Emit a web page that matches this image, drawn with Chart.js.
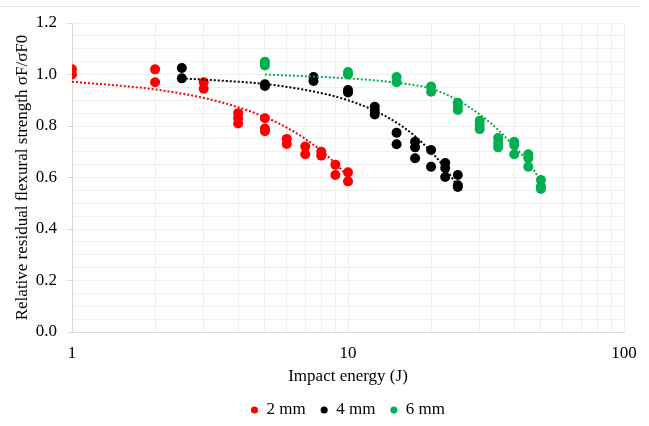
<!DOCTYPE html>
<html>
<head>
<meta charset="utf-8">
<script src="https://cdn.jsdelivr.net/npm/chart.js@4"></script>
<style>
  body { margin: 0; background: #ffffff; }
  canvas { display: block; }
</style>
</head>
<body>
<canvas id="plot-1" width="649" height="426"></canvas>
<script>
// dados (energia J, resistencia relativa)
const redX = [1, 1, 2, 2, 3, 3, 4, 4, 4, 5, 5, 5, 6, 6, 7, 7, 8, 8, 9, 9, 10, 10]
const redY = [1.02, 1.00, 1.02, 0.97, 0.97, 0.945, 0.85, 0.83, 0.81, 0.83, 0.79, 0.78, 0.75, 0.73, 0.72, 0.69, 0.70, 0.685, 0.65, 0.61, 0.62, 0.585]

const blackX = [2.5, 2.5, 5, 5, 7.5, 7.5, 10, 10, 12.5, 12.5, 12.5, 15, 15, 17.5, 17.5, 17.5, 20, 20, 22.5, 22.5, 22.5, 25, 25, 25]
const blackY = [1.025, 0.985, 0.962, 0.955, 0.99, 0.975, 0.94, 0.93, 0.875, 0.86, 0.845, 0.774, 0.729, 0.739, 0.717, 0.675, 0.707, 0.642, 0.656, 0.637, 0.602, 0.61, 0.57, 0.563]

const greenX = [5, 5, 10, 10, 15, 15, 20, 20, 25, 25, 25, 30, 30, 30, 35, 35, 35, 40, 40, 40, 45, 45, 45, 50, 50, 50]
const greenY = [1.05, 1.035, 1.01, 1.0, 0.99, 0.97, 0.953, 0.933, 0.89, 0.878, 0.862, 0.82, 0.804, 0.788, 0.753, 0.734, 0.717, 0.739, 0.726, 0.69, 0.69, 0.675, 0.642, 0.59, 0.565, 0.555]

// linhas de tendencia (pontilhadas)
const redTrendX = [1, 2, 3, 4, 5, 6, 7, 8, 9, 10]
const redTrendY = [0.972, 0.942, 0.909, 0.873, 0.835, 0.794, 0.75, 0.704, 0.655, 0.603]
const blackTrendX = [2.5, 5, 7.5, 10, 12.5, 15, 17.5, 20, 22.5, 25]
const blackTrendY = [0.985, 0.963, 0.934, 0.90, 0.859, 0.813, 0.76, 0.70, 0.636, 0.565]
const greenTrendX = [5, 10, 15, 20, 25, 30, 35, 40, 45, 50]
const greenTrendY = [1.0, 0.985, 0.968, 0.945, 0.90, 0.845, 0.785, 0.72, 0.66, 0.585]

const seriesNames = ['2 mm', '4 mm', '6 mm']
const seriesColors = ['#ff0000', '#000000', '#00b050']

// ticks do eixo x (grade log) e rotulos que aparecem
const xGridTicks = [1, 2, 3, 4, 5, 6, 7, 8, 9, 10, 20, 30, 40, 50, 60, 70, 80, 90, 100]
const xTickLabels = [1, 10, 100]
const yTickLabels = [0, 0.2, 0.4, 0.6, 0.8, 1.0, 1.2]

const font = 'Liberation Serif'

function pts(xs, ys) {
    return xs.map((x, i) => ({x: x, y: ys[i]}))
}

function isYLabel(v) {
    return yTickLabels.some(t => Math.abs(t - v) < 1e-6)
}

const pontos = [[redX, redY], [blackX, blackY], [greenX, greenY]]
const tendencias = [[redTrendX, redTrendY], [blackTrendX, blackTrendY], [greenTrendX, greenTrendY]]

const datasets = []
for (let i = 0; i < 3; i++) {
    datasets.push({
        label: seriesNames[i],
        data: pts(pontos[i][0], pontos[i][1]),
        showLine: false,
        pointRadius: 5,
        pointHoverRadius: 5,
        pointBorderWidth: 0,
        backgroundColor: seriesColors[i],
        borderColor: seriesColors[i],
        order: 2
    })
}
for (let i = 0; i < 3; i++) {
    datasets.push({
        label: 'trend',
        data: pts(tendencias[i][0], tendencias[i][1]),
        showLine: true,
        pointRadius: 0,
        borderWidth: 2,
        borderDash: [2, 2],
        borderColor: seriesColors[i],
        cubicInterpolationMode: 'monotone',
        fill: false,
        order: 1
    })
}

// linha fina no topo da imagem (borda cortada)
const topLine = {
    id: 'topLine',
    beforeDraw(chart) {
        const ctx = chart.ctx
        ctx.save()
        ctx.strokeStyle = '#e6e6e6'
        ctx.lineWidth = 1
        ctx.beginPath()
        ctx.moveTo(0, 6.5)
        ctx.lineTo(640, 6.5)
        ctx.stroke()
        ctx.restore()
    }
}

const data_grafico_1 = {
    type: 'scatter',
    data: { datasets: datasets },
    options: {
        responsive: false,
        devicePixelRatio: 1,
        animation: false,
        layout: { padding: { left: 0, right: 25, top: 23, bottom: -2.5 } },
        plugins: {
            tooltip: { enabled: false },
            legend: {
                position: 'bottom',
                fullSize: false,
                labels: {
                    filter: item => item.text !== 'trend',
                    usePointStyle: true,
                    pointStyle: 'circle',
                    boxWidth: 7,
                    boxHeight: 5,
                    padding: 15,
                    color: '#000000',
                    font: { family: font, size: 17 }
                }
            }
        },
        scales: {
            x: {
                type: 'logarithmic',
                min: 1,
                max: 100,
                afterBuildTicks: scale => { scale.ticks = xGridTicks.map(v => ({value: v})) },
                afterFit: scale => { scale.height = 54.5 },
                border: { color: '#d9d9d9', width: 1 },
                grid: { color: '#efefef', drawTicks: false },
                ticks: {
                    autoSkip: false,
                    maxRotation: 0,
                    padding: 11.5,
                    color: '#000000',
                    font: { family: font, size: 17 },
                    callback: v => xTickLabels.includes(v) ? String(v) : ''
                },
                title: {
                    display: true,
                    text: 'Impact energy (J)',
                    color: '#000000',
                    padding: { top: 2, bottom: 0 },
                    font: { family: font, size: 17 }
                }
            },
            y: {
                min: 0,
                max: 1.2,
                afterFit: scale => { scale.width = 72 },
                border: { color: '#d9d9d9', width: 1 },
                grid: {
                    color: '#efefef',
                    tickLength: 5,
                    tickColor: c => isYLabel(c.tick.value) ? '#d9d9d9' : 'rgba(0,0,0,0)'
                },
                ticks: {
                    stepSize: 0.05,
                    autoSkip: false,
                    padding: 10,
                    color: '#000000',
                    font: { family: font, size: 17 },
                    callback: v => isYLabel(v) ? v.toFixed(1) : ''
                },
                title: {
                    display: true,
                    text: 'Relative residual flexural strength σF/σF0',
                    color: '#000000',
                    padding: { top: 12, bottom: 0 },
                    font: { family: font, size: 17 }
                }
            }
        }
    },
    plugins: [topLine]
}

const charts = [
    new Chart(document.getElementById('plot-1'), data_grafico_1)
]
</script>
</body>
</html>
